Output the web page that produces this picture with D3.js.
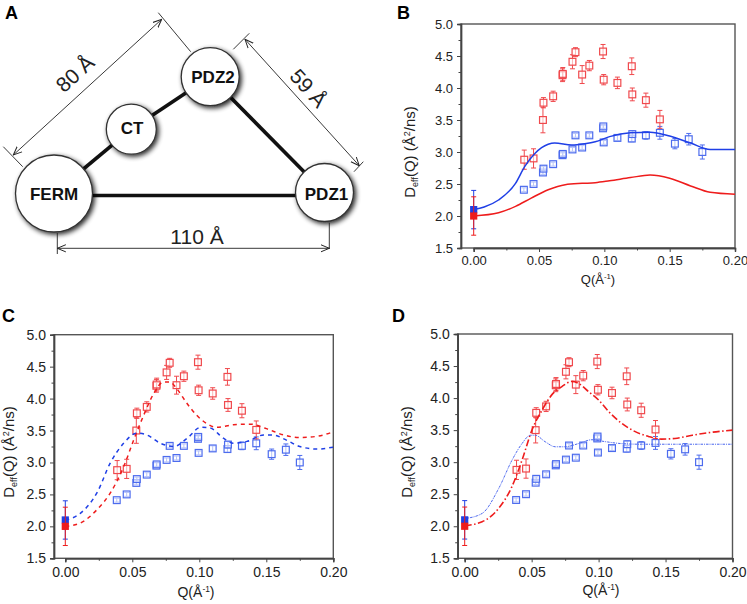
<!DOCTYPE html>
<html><head><meta charset="utf-8">
<script src="https://cdn.jsdelivr.net/npm/d3@7"></script>
<style>
body{margin:0;background:#fff;}
svg{display:block;font-family:"Liberation Sans",Arial,sans-serif;}
</style></head>
<body><svg id="fig" width="747" height="604"></svg>
<script>
// ---------- data ----------
const qRed = [0.0387,0.0458,0.0530,0.0534,0.0608,0.0680,0.0682,0.0756,0.0779,0.0830,0.0885,0.0990,0.0995,0.1100,0.1210,0.1214,0.1318,0.1425];
const dRed = [2.88,2.90,3.50,3.77,3.87,4.20,4.22,4.41,4.56,4.21,4.35,4.57,4.13,4.08,4.34,3.90,3.81,3.51];
const eRed = [0.15,0.15,0.20,0.08,0.08,0.10,0.10,0.11,0.07,0.14,0.08,0.11,0.08,0.09,0.13,0.10,0.11,0.14];

const qBlue = [0.0384,0.0458,0.0530,0.0534,0.0608,0.0680,0.0682,0.0756,0.0779,0.0830,0.0885,0.0990,0.0992,0.0995,0.1100,0.1210,0.1214,0.1318,0.1425,0.1540,0.1646,0.1750];
const dBlue = [2.41,2.50,2.68,2.74,2.81,2.95,2.97,3.04,3.26,3.07,3.26,3.37,3.40,3.15,3.22,3.21,3.28,3.26,3.30,3.13,3.20,3.00];
const eBlue = [0.03,0.03,0.03,0.03,0.03,0.03,0.03,0.03,0.03,0.03,0.03,0.04,0.03,0.03,0.04,0.05,0.05,0.06,0.10,0.08,0.09,0.11];

// D0 values at Q = 0 (filled squares)
const d0Red = 2.00, e0Red = 0.30;
const d0Blue = 2.10, e0Blue = 0.30;

// Panel B model curves (solid)
const fitBq_blue = [0,0.008,0.019,0.032,0.039,0.047,0.057,0.062,0.075,0.085,0.093,0.104,0.12,0.135,0.15,0.166,0.181,0.20];
const fitBd_blue = [2.10,2.14,2.25,2.51,2.77,2.98,3.12,3.14,3.11,3.13,3.16,3.24,3.30,3.31,3.25,3.14,3.04,3.04];
const fitBq_red = [0,0.019,0.032,0.044,0.057,0.07,0.083,0.093,0.104,0.12,0.135,0.15,0.166,0.181,0.20];
const fitBd_red = [2.00,2.05,2.15,2.28,2.41,2.49,2.51,2.52,2.55,2.60,2.64,2.59,2.47,2.37,2.34];

// Panel C model curves (dashed)
const fitCq_red = [0,0.011,0.0236,0.0335,0.0435,0.051,0.0585,0.066,0.0733,0.078,0.083,0.0906,0.098,0.1055,0.113,0.1255,0.138,0.150,0.163,0.175,0.188,0.20];
const fitCd_red = [2.00,2.05,2.26,2.52,2.93,3.35,3.74,4.08,4.26,4.26,4.16,3.93,3.74,3.61,3.55,3.59,3.60,3.53,3.43,3.39,3.41,3.48];
const fitCq_blue = [0,0.011,0.024,0.0335,0.0435,0.0535,0.061,0.071,0.081,0.091,0.101,0.108,0.118,0.1255,0.1356,0.148,0.155,0.165,0.175,0.188,0.20];
const fitCd_blue = [2.10,2.20,2.54,2.99,3.30,3.46,3.43,3.30,3.25,3.38,3.55,3.54,3.38,3.30,3.33,3.43,3.43,3.35,3.25,3.21,3.24];

// Panel D model curves
const fitDq_red = [0,0.013,0.0254,0.0353,0.0428,0.0502,0.0577,0.065,0.0726,0.080,0.085,0.0925,0.10,0.1075,0.117,0.127,0.1373,0.147,0.157,0.170,0.182,0.20];
const fitDd_red = [2.01,2.07,2.28,2.62,3.03,3.50,3.81,4.05,4.18,4.26,4.23,4.10,3.97,3.79,3.61,3.48,3.40,3.36,3.37,3.42,3.46,3.50];
const fitDq_blue = [0,0.013,0.0254,0.0353,0.0428,0.049,0.0527,0.060,0.0677,0.075,0.085,0.095,0.105,0.117,0.132,0.157,0.20];
const fitDd_blue = [2.12,2.20,2.59,3.03,3.29,3.42,3.42,3.32,3.24,3.24,3.29,3.35,3.32,3.29,3.28,3.28,3.28];

const xTicks = [0, 0.05, 0.10, 0.15, 0.20];
const yTicks = [1.5, 2.0, 2.5, 3.0, 3.5, 4.0, 4.5, 5.0];

// ---------- drawing ----------
const svg = d3.select("#fig");
const RED = "#ee1c1c", BLUE = "#1f3fe6";
const RED_M = "#f0494d", BLUE_M = "#4d6cee";

const defs = svg.append("defs");
const f = defs.append("filter").attr("id","sh").attr("x","-40%").attr("y","-40%").attr("width","180%").attr("height","180%");
f.append("feGaussianBlur").attr("in","SourceAlpha").attr("stdDeviation",2.8).attr("result","b");
f.append("feOffset").attr("in","b").attr("dx",1.8).attr("dy",1.8).attr("result","o");
f.append("feComponentTransfer").attr("in","o").attr("result","c").append("feFuncA").attr("type","linear").attr("slope",0.85);
const fm = f.append("feMerge"); fm.append("feMergeNode").attr("in","c"); fm.append("feMergeNode").attr("in","SourceGraphic");
defs.append("marker").attr("id","arr").attr("viewBox","0 0 10 10").attr("refX",9.5).attr("refY",5)
  .attr("markerWidth",9).attr("markerHeight",9).attr("markerUnits","userSpaceOnUse").attr("orient","auto-start-reverse")
  .append("path").attr("d","M0,1 L9.5,5 L0,9").attr("fill","none").attr("stroke","#222").attr("stroke-width",1.1);

// Panel labels
[["A",5,19],["B",397,19],["C",2,322],["D",392,322]].forEach(([t,x,y])=>
  svg.append("text").attr("x",x).attr("y",y).attr("font-size",18).attr("font-weight","bold").text(t));

// ---------- Panel A ----------
const gA = svg.append("g");
const nodes = {
  FERM:{x:54,y:193.5,r:38.5}, CT:{x:131.3,y:129.2,r:25}, PDZ2:{x:210.2,y:76.7,r:29}, PDZ1:{x:324.5,y:192.5,r:29}
};
const links = [["FERM","CT"],["CT","PDZ2"],["PDZ2","PDZ1"]];
links.forEach(([a,b])=>gA.append("line").attr("x1",nodes[a].x).attr("y1",nodes[a].y).attr("x2",nodes[b].x).attr("y2",nodes[b].y)
  .attr("stroke","#111").attr("stroke-width",3.6));
gA.append("line").attr("x1",nodes.FERM.x).attr("y1",195.5).attr("x2",nodes.PDZ1.x).attr("y2",195.5).attr("stroke","#111").attr("stroke-width",3.6);
Object.entries(nodes).forEach(([k,n])=>{
  gA.append("circle").attr("cx",n.x).attr("cy",n.y).attr("r",n.r).attr("fill","#fff").attr("stroke","#333").attr("stroke-width",1.3).attr("filter","url(#sh)");
});
const lbl = {FERM:[54,199.5],CT:[132,133.5],PDZ2:[213,83],PDZ1:[326.5,199.5]};
Object.entries(lbl).forEach(([k,[x,y]])=>gA.append("text").attr("x",x).attr("y",y).attr("text-anchor","middle")
  .attr("font-size",17).attr("font-weight","bold").attr("fill","#111").text(k));
// dimension lines
const thin = (x1,y1,x2,y2)=>gA.append("line").attr("x1",x1).attr("y1",y1).attr("x2",x2).attr("y2",y2).attr("stroke","#222").attr("stroke-width",0.9);
thin(3.3,146.7,22.7,166.7); thin(158.3,12.7,190.7,51.7);
thin(13.3,155,161.7,19.3).attr("marker-start","url(#arr)").attr("marker-end","url(#arr)");
thin(233.3,49.3,249.3,33.3); thin(354,171.7,363.3,161.7);
thin(245,39.3,359.3,165.7).attr("marker-start","url(#arr)").attr("marker-end","url(#arr)");
thin(57.3,233,57.3,254); thin(329.3,222.7,329.3,249);
thin(57.3,248.3,329.3,248.3).attr("marker-start","url(#arr)").attr("marker-end","url(#arr)");
gA.append("text").attr("transform","translate(80,79) rotate(-42.4)").attr("text-anchor","middle").attr("font-size",21).attr("fill","#222").text("80 Å");
gA.append("text").attr("transform","translate(303,93) rotate(48)").attr("text-anchor","middle").attr("font-size",21).attr("fill","#222").text("59 Å");
gA.append("text").attr("x",197).attr("y",244).attr("text-anchor","middle").attr("font-size",21).attr("fill","#222").text("110 Å");

// ---------- plot panels ----------
function panel(o){
  const g = svg.append("g");
  const x = d3.scaleLinear().domain([0,0.2]).range([o.x0,o.x1]);
  const y = d3.scaleLinear().domain([1.5,5.0]).range([o.yb,o.yt]);
  const L = o.left;
  g.append("rect").attr("x",L).attr("y",o.yt).attr("width",o.x1-L).attr("height",o.yb-o.yt)
    .attr("fill","none").attr("stroke","#555").attr("stroke-width",1.4);
  g.append("g").attr("transform",`translate(${L},0)`)
    .call(d3.axisLeft(y).tickValues(yTicks).tickFormat(d3.format(".1f")).tickSize(4).tickPadding(4));
  g.append("g").attr("transform",`translate(${L},0)`).call(d3.axisLeft(y).tickValues(d3.range(1.75,5.0,0.5)).tickFormat("").tickSize(2.5));
  g.append("g").attr("transform",`translate(0,${o.yb})`)
    .call(d3.axisBottom(x).tickValues(xTicks).tickFormat(d3.format(".2f")).tickSize(4).tickPadding(o.xpad));
  g.append("g").attr("transform",`translate(0,${o.yb})`).call(d3.axisBottom(x).tickValues(d3.range(0.025,0.2,0.05)).tickFormat("").tickSize(2.5));
  g.selectAll(".domain").attr("stroke","#444").attr("stroke-width",1.4);
  g.selectAll(".tick line").attr("stroke","#444").attr("stroke-width",1);
  g.selectAll(".tick text").attr("font-size",o.fs).attr("fill","#222").attr("font-family","'Liberation Sans',Arial,sans-serif");
  // axis titles
  const yl = g.append("text").attr("transform",`translate(${o.ylx},${o.yly}) rotate(-90)`).attr("text-anchor","middle")
    .attr("font-size",o.tfs).attr("fill","#222");
  yl.append("tspan").text("D");
  yl.append("tspan").attr("font-size",o.tfs*0.6).attr("dy",3).text("eff");
  yl.append("tspan").attr("dy",-3).text("(Q) (Å");
  yl.append("tspan").attr("font-size",o.tfs*0.6).attr("dy",-5).text("2");
  yl.append("tspan").attr("dy",5).text("/ns)");
  const xl = g.append("text").attr("x",o.xlx).attr("y",o.xly).attr("text-anchor","middle").attr("font-size",o.fs).attr("fill","#222");
  xl.append("tspan").text("Q(Å");
  xl.append("tspan").attr("font-size",o.fs*0.6).attr("dy",-5).text("-1");
  xl.append("tspan").attr("dy",5).text(")");

  const clip = "clip"+o.id;
  defs.append("clipPath").attr("id",clip).append("rect").attr("x",L).attr("y",o.yt).attr("width",o.x1-L).attr("height",o.yb-o.yt);
  const pg = g.append("g").attr("clip-path",`url(#${clip})`);

  function pts(qs,ds,es,col){
    qs.forEach((q,i)=>{
      const cx=x(q), cy=y(ds[i]), t=y(ds[i]+es[i]), b=y(ds[i]-es[i]);
      pg.append("line").attr("x1",cx).attr("x2",cx).attr("y1",t).attr("y2",b).attr("stroke",col).attr("stroke-width",1);
      [t,b].forEach(v=>pg.append("line").attr("x1",cx-2.5).attr("x2",cx+2.5).attr("y1",v).attr("y2",v).attr("stroke",col).attr("stroke-width",1));
      pg.append("rect").attr("x",cx-3.4).attr("y",cy-3.4).attr("width",6.8).attr("height",6.8)
        .attr("fill","#fff").attr("fill-opacity",0.6).attr("stroke",col).attr("stroke-width",1.2);
    });
  }
  pts(qBlue,dBlue,eBlue,BLUE_M);
  pts(qRed,dRed,eRed,RED_M);
  const line = d3.line().x(d=>x(d[0])).y(d=>y(d[1])).curve(d3.curveMonotoneX);
  o.curves.forEach(c=>{
    pg.append("path").datum(d3.zip(c.q,c.d)).attr("d",line).attr("fill","none")
      .attr("stroke",c.col).attr("stroke-width",c.w).attr("stroke-dasharray",c.dash||null);
  });
  [[d0Blue,e0Blue,BLUE],[d0Red,e0Red,RED]].forEach(([d,e,col])=>{
    const cx=x(0);
    g.append("line").attr("x1",cx).attr("x2",cx).attr("y1",y(d+e)).attr("y2",y(d-e)).attr("stroke",col).attr("stroke-width",1);
    [y(d+e),y(d-e)].forEach(v=>g.append("line").attr("x1",cx-2.5).attr("x2",cx+2.5).attr("y1",v).attr("y2",v).attr("stroke",col).attr("stroke-width",1));
    g.append("rect").attr("x",cx-3.6).attr("y",y(d)-3.6).attr("width",7.2).attr("height",7.2).attr("fill",col);
  });
}

panel({id:"B",left:461,x0:473.7,x1:735,yt:24,yb:248,fs:13,tfs:15,xpad:4,ylx:415,yly:152,xlx:598,xly:284,
  curves:[{q:fitBq_red,d:fitBd_red,col:RED,w:1.5},{q:fitBq_blue,d:fitBd_blue,col:BLUE,w:1.5}]});
panel({id:"C",left:54,x0:65.3,x1:333.3,yt:334.7,yb:558.3,fs:14,tfs:15,xpad:5,ylx:14,yly:452,xlx:196,xly:597,
  curves:[{q:fitCq_red,d:fitCd_red,col:RED,w:1.5,dash:"4,4"},{q:fitCq_blue,d:fitCd_blue,col:BLUE,w:1.5,dash:"4,4"}]});
panel({id:"D",left:457.7,x0:464.7,x1:732.5,yt:334,yb:558.3,fs:14,tfs:15,xpad:5,ylx:412,yly:452,xlx:601,xly:595,
  curves:[{q:fitDq_red,d:fitDd_red,col:RED,w:1.6,dash:"7,2.5,1.5,2.5"},{q:fitDq_blue,d:fitDd_blue,col:"#4a66ee",w:1,dash:"2.5,1,1,1"}]});
</script></body></html>
